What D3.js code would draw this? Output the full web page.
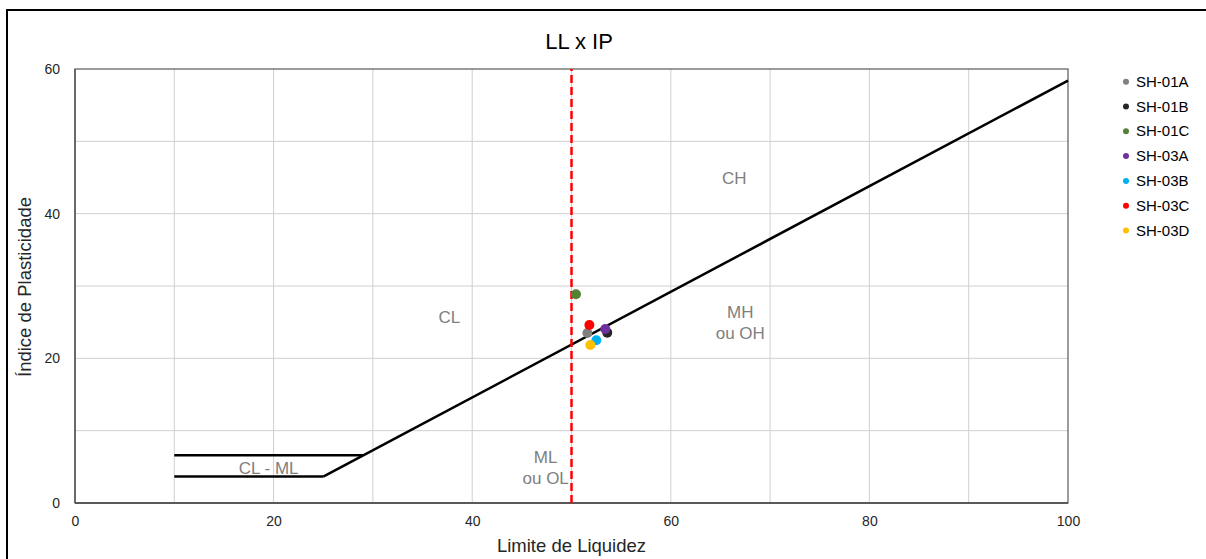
<!DOCTYPE html>
<html>
<head>
<meta charset="utf-8">
<script src="https://cdn.jsdelivr.net/npm/d3@7"></script>
<style>
  html, body { margin: 0; padding: 0; background: #fff; }
  svg { display: block; font-family: "Liberation Sans", Arial, sans-serif; }
</style>
</head>
<body>
<svg id="chart" width="1206" height="559"></svg>
<script>
// ---- data ----
const title = "LL x IP";
const xTitle = "Limite de Liquidez";
const yTitle = "Índice de Plasticidade";
const xTickLabels = [0, 20, 40, 60, 80, 100];
const yTickLabels = [0, 20, 40, 60];
const xGrid = [10, 20, 30, 40, 50, 60, 70, 80, 90];
const yGrid = [10, 20, 30, 40, 50];

const sampleNames = ["SH-01A", "SH-01B", "SH-01C", "SH-03A", "SH-03B", "SH-03C", "SH-03D"];
const sampleLL = [51.6, 53.6, 50.45, 53.4, 52.5, 51.8, 51.9];
const sampleIP = [23.5, 23.55, 28.85, 24.05, 22.5, 24.6, 21.85];
const sampleColors = ["#808080", "#262626", "#548235", "#7030A0", "#00B0F0", "#FF0000", "#FFC000"];

// A-line and CL-ML boundary lines (LL, IP)
const aLine = [[25, 3.65], [100, 58.4]];
const clmlUpper = [[10, 6.6], [29, 6.6]];
const clmlLower = [[10, 3.65], [25, 3.65]];
const llLimit = 50;

const zoneLabels = [
  { lines: ["CH"], ll: 66.4, ip: 44.1 },
  { lines: ["CL"], ll: 37.7, ip: 24.9 },
  { lines: ["MH", "ou OH"], ll: 67, ip: 25.6 },
  { lines: ["ML", "ou OL"], ll: 47.4, ip: 5.55 },
  { lines: ["CL - ML"], ll: 19.5, ip: 4.0 }
];

// ---- drawing ----
const svg = d3.select("#chart");
const x = d3.scaleLinear().domain([0, 100]).range([75, 1068]);
const y = d3.scaleLinear().domain([0, 60]).range([503, 69]);

// outer border
svg.append("rect").attr("x", 7).attr("y", 10).attr("width", 1260).attr("height", 600)
  .attr("fill", "none").attr("stroke", "#000").attr("stroke-width", 2);

// grid
svg.append("g").selectAll("line").data(xGrid).join("line")
  .attr("x1", d => x(d)).attr("x2", d => x(d)).attr("y1", y(0)).attr("y2", y(60))
  .attr("stroke", "#d0d0d0").attr("stroke-width", 1);
svg.append("g").selectAll("line").data(yGrid).join("line")
  .attr("x1", x(0)).attr("x2", x(100)).attr("y1", d => y(d)).attr("y2", d => y(d))
  .attr("stroke", "#d0d0d0").attr("stroke-width", 1);

// plot frame
svg.append("rect").attr("x", x(0)).attr("y", y(60)).attr("width", x(100) - x(0)).attr("height", y(0) - y(60))
  .attr("fill", "none").attr("stroke", "#595959").attr("stroke-width", 1.2);
svg.append("line").attr("x1", x(0)).attr("x2", x(100)).attr("y1", y(0)).attr("y2", y(0))
  .attr("stroke", "#595959").attr("stroke-width", 2);
svg.append("line").attr("x1", x(0)).attr("x2", x(0)).attr("y1", y(0)).attr("y2", y(60))
  .attr("stroke", "#595959").attr("stroke-width", 1.5);

// axes (labels only)
const xAxis = svg.append("g").attr("transform", `translate(0,${y(0)})`)
  .call(d3.axisBottom(x).tickValues(xTickLabels).tickSize(0).tickPadding(13));
const yAxis = svg.append("g").attr("transform", `translate(${x(0)},0)`)
  .call(d3.axisLeft(y).tickValues(yTickLabels).tickSize(0).tickPadding(15));
[xAxis, yAxis].forEach(a => {
  a.select(".domain").remove();
  a.selectAll("text").attr("font-size", 14).attr("fill", "#262626")
    .attr("font-family", "'Liberation Sans', Arial, sans-serif");
});

// lines
const line = d3.line().x(d => x(d[0])).y(d => y(d[1]));
[aLine, clmlUpper, clmlLower].forEach(l => {
  svg.append("path").attr("d", line(l)).attr("fill", "none")
    .attr("stroke", "#000").attr("stroke-width", 2.5);
});

// LL = 50 limit
svg.append("line").attr("x1", x(llLimit)).attr("x2", x(llLimit)).attr("y1", y(0)).attr("y2", y(60))
  .attr("stroke", "#FF0000").attr("stroke-width", 2.5).attr("stroke-dasharray", "8,4");

// zone labels
zoneLabels.forEach(z => {
  const t = svg.append("text").attr("x", x(z.ll)).attr("y", y(z.ip))
    .attr("text-anchor", "middle").attr("font-size", 17).attr("fill", "#808080");
  z.lines.forEach((s, i) => {
    t.append("tspan").attr("x", x(z.ll)).attr("dy", i === 0 ? 0 : 21).text(s);
  });
});

// points
svg.append("g").selectAll("circle").data(sampleNames).join("circle")
  .attr("cx", (d, i) => x(sampleLL[i])).attr("cy", (d, i) => y(sampleIP[i]))
  .attr("r", 5).attr("fill", (d, i) => sampleColors[i]);

// title
svg.append("text").attr("x", 579).attr("y", 49).attr("text-anchor", "middle")
  .attr("font-size", 22).attr("fill", "#000").text(title);

// axis titles
svg.append("text").attr("x", 571.5).attr("y", 552).attr("text-anchor", "middle")
  .attr("font-size", 18.5).attr("fill", "#262626").text(xTitle);
svg.append("text").attr("transform", "translate(31,287) rotate(-90)").attr("text-anchor", "middle")
  .attr("font-size", 18.5).attr("fill", "#262626").text(yTitle);

// legend
const lg = svg.append("g").selectAll("g").data(sampleNames).join("g")
  .attr("transform", (d, i) => `translate(1126,${81.7 + i * 24.8})`);
lg.append("circle").attr("r", 3).attr("fill", (d, i) => sampleColors[i]);
lg.append("text").attr("x", 10).attr("y", 5).attr("font-size", 15).attr("fill", "#000").text(d => d);
</script>
</body>
</html>
